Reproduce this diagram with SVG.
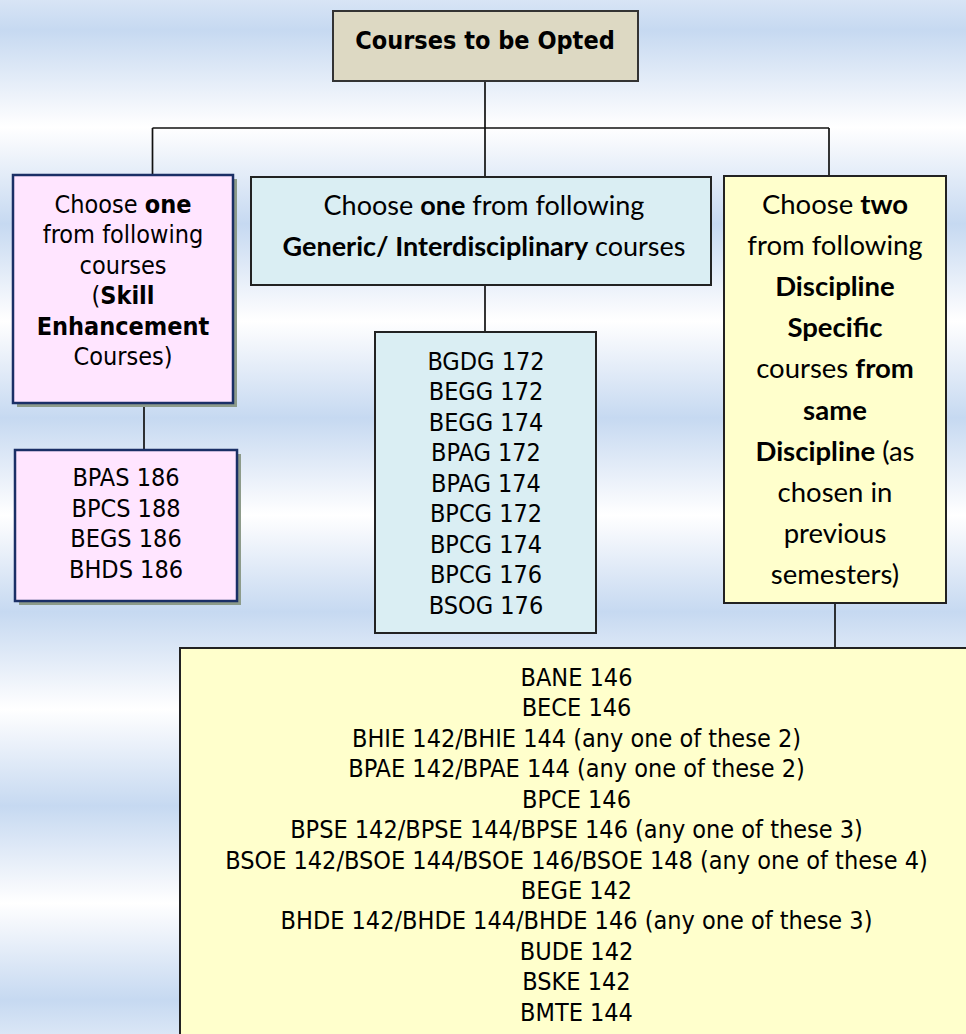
<svg xmlns="http://www.w3.org/2000/svg" width="966" height="1034" viewBox="0 0 966 1034">
  <defs>
    <linearGradient id="bg" gradientUnits="userSpaceOnUse" x1="0" y1="30" x2="0" y2="224" spreadMethod="repeat">
      <stop offset="0" stop-color="#c6d9f1"/>
      <stop offset="0.4" stop-color="#f4f7fc"/>
      <stop offset="0.5" stop-color="#ffffff"/>
      <stop offset="0.6" stop-color="#f4f7fc"/>
      <stop offset="1" stop-color="#c6d9f1"/>
    </linearGradient>
  </defs>
  <style>
    .t { font-family: "DejaVu Sans Condensed", "DejaVu Sans", sans-serif; font-stretch: condensed; font-size: 25px; text-anchor: middle; fill: #000; }
    .c { font-family: Lato, "Liberation Sans", sans-serif; font-size: 27.5px; text-anchor: middle; fill: #000; }
    .g { font-size: 27px; }
    .b { font-weight: bold; }
    .shadow { fill: #8d9b8a; }
    .pink { fill: #ffe5ff; stroke: #1a2f66; stroke-width: 2.5; }
    .blue { fill: #daeef3; stroke: #222; stroke-width: 2; }
    .yellow { fill: #ffffcc; stroke: #222; stroke-width: 2; }
    .tan { fill: #ddd9c3; stroke: #333; stroke-width: 2; }
    .conn line { stroke: #111; stroke-width: 1.7; }
  </style>
  <rect x="0" y="0" width="966" height="1034" fill="url(#bg)"/>

  <g id="connectors" class="conn">
    <line x1="485" y1="81" x2="485" y2="128"/>
    <line x1="152.5" y1="128" x2="829" y2="128"/>
    <line x1="152.5" y1="128" x2="152.5" y2="175"/>
    <line x1="485" y1="128" x2="485" y2="177"/>
    <line x1="829" y1="128" x2="829" y2="176"/>
    <line x1="144" y1="403" x2="144" y2="450"/>
    <line x1="485" y1="285" x2="485" y2="332"/>
    <line x1="835" y1="603" x2="835" y2="648"/>
  </g>

  <g id="top">
    <rect class="tan" x="333" y="11" width="305" height="70"/>
    <text class="t b" x="485" y="49">Courses to be Opted</text>
  </g>

  <g id="skill">
    <rect class="shadow" x="17" y="179" width="220" height="228"/>
    <rect class="pink" x="13" y="175" width="220" height="228"/>
    <text class="t" x="123" y="212.5">Choose <tspan class="b">one</tspan></text>
    <text class="t" x="123" y="243">from following</text>
    <text class="t" x="123" y="273.5">courses</text>
    <text class="t" x="123" y="304">(<tspan class="b">Skill</tspan></text>
    <text class="t b" x="123" y="334.5">Enhancement</text>
    <text class="t" x="123" y="365">Courses)</text>
  </g>

  <g id="skill-list">
    <rect class="shadow" x="19" y="454" width="222" height="151"/>
    <rect class="pink" x="15" y="450" width="222" height="151"/>
    <text class="t" x="126" y="486">BPAS 186</text>
    <text class="t" x="126" y="516.7">BPCS 188</text>
    <text class="t" x="126" y="547.3">BEGS 186</text>
    <text class="t" x="126" y="578">BHDS 186</text>
  </g>

  <g id="generic">
    <rect class="blue" x="251" y="177" width="460" height="108"/>
    <text class="c g" x="484" y="215">Choose <tspan class="b">one</tspan> from following</text>
    <text class="c g" x="484" y="256"><tspan class="b">Generic/ Interdisciplinary</tspan> courses</text>
  </g>

  <g id="generic-list">
    <rect class="blue" x="375" y="332" width="221" height="301"/>
    <text class="t" x="486" y="369.5">BGDG 172</text>
    <text class="t" x="486" y="400">BEGG 172</text>
    <text class="t" x="486" y="430.5">BEGG 174</text>
    <text class="t" x="486" y="461">BPAG 172</text>
    <text class="t" x="486" y="491.5">BPAG 174</text>
    <text class="t" x="486" y="522">BPCG 172</text>
    <text class="t" x="486" y="552.5">BPCG 174</text>
    <text class="t" x="486" y="583">BPCG 176</text>
    <text class="t" x="486" y="613.5">BSOG 176</text>
  </g>

  <g id="discipline">
    <rect class="yellow" x="724" y="176" width="222" height="427"/>
    <text class="c" x="835" y="214">Choose <tspan class="b">two</tspan></text>
    <text class="c" x="835" y="255.1">from following</text>
    <text class="c b" x="835" y="296.2">Discipline</text>
    <text class="c b" x="835" y="337.3">Specific</text>
    <text class="c" x="835" y="378.4">courses <tspan class="b">from</tspan></text>
    <text class="c b" x="835" y="419.5">same</text>
    <text class="c" x="835" y="460.6"><tspan class="b">Discipline</tspan> (as</text>
    <text class="c" x="835" y="501.7">chosen in</text>
    <text class="c" x="835" y="542.8">previous</text>
    <text class="c" x="835" y="583.9">semesters)</text>
  </g>

  <g id="discipline-list">
    <rect class="yellow" x="180" y="648" width="800" height="400"/>
    <text class="t" x="576.5" y="686">BANE 146</text>
    <text class="t" x="576.5" y="716.4">BECE 146</text>
    <text class="t" x="576.5" y="746.9">BHIE 142/BHIE 144 (any one of these 2)</text>
    <text class="t" x="576.5" y="777.3">BPAE 142/BPAE 144 (any one of these 2)</text>
    <text class="t" x="576.5" y="807.7">BPCE 146</text>
    <text class="t" x="576.5" y="838.2">BPSE 142/BPSE 144/BPSE 146 (any one of these 3)</text>
    <text class="t" x="576.5" y="868.6">BSOE 142/BSOE 144/BSOE 146/BSOE 148 (any one of these 4)</text>
    <text class="t" x="576.5" y="899">BEGE 142</text>
    <text class="t" x="576.5" y="929.4">BHDE 142/BHDE 144/BHDE 146 (any one of these 3)</text>
    <text class="t" x="576.5" y="959.9">BUDE 142</text>
    <text class="t" x="576.5" y="990.3">BSKE 142</text>
    <text class="t" x="576.5" y="1020.7">BMTE 144</text>
  </g>
</svg>
